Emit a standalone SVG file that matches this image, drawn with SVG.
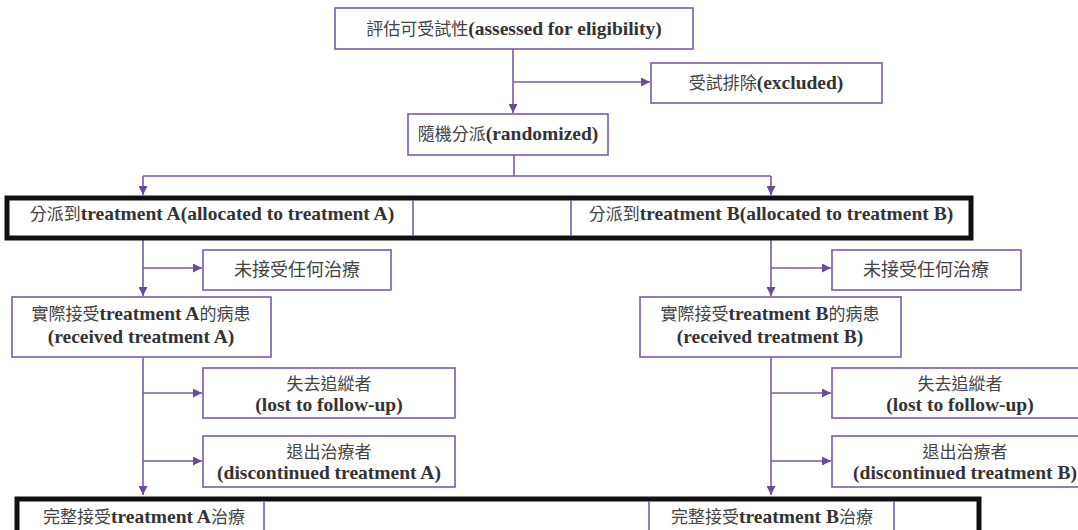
<svg xmlns="http://www.w3.org/2000/svg" width="1078" height="530" viewBox="0 0 1078 530">
<style>
.box{fill:#fff;stroke:#7b5aa8;stroke-width:1.6}
.thick{fill:#fff;stroke:#111;stroke-width:5}
.div{stroke:#7b5aa8;stroke-width:1.6}
.ln{fill:none;stroke:#7b5aa8;stroke-width:1.6}
text{font-family:"Liberation Serif","Noto Sans CJK TC",serif;font-size:19.5px;font-weight:bold;fill:#333;text-anchor:middle}
.c{font-family:"Noto Sans CJK TC","Liberation Serif",sans-serif;font-size:17px;font-weight:normal;fill:#444}
</style>
<defs>
<marker id="ah" viewBox="0 0 10 10" refX="10" refY="5" markerWidth="9" markerHeight="9" markerUnits="userSpaceOnUse" orient="auto">
<path d="M0,0 L10,5 L0,10 z" fill="#6a4a9c"/>
</marker>
</defs>
<g id="connectors">
<path class="ln" d="M513,49 V113" marker-end="url(#ah)"/>
<path class="ln" d="M513,82 H650" marker-end="url(#ah)"/>
<path class="ln" d="M514,155 V176 M143,176 H771"/>
<path class="ln" d="M143,176 V195" marker-end="url(#ah)"/>
<path class="ln" d="M771,176 V195" marker-end="url(#ah)"/>
<path class="ln" d="M143,239 V296" marker-end="url(#ah)"/>
<path class="ln" d="M143,268 H202" marker-end="url(#ah)"/>
<path class="ln" d="M771,239 V296" marker-end="url(#ah)"/>
<path class="ln" d="M771,268 H831" marker-end="url(#ah)"/>
<path class="ln" d="M143,357 V495" marker-end="url(#ah)"/>
<path class="ln" d="M143,393 H202" marker-end="url(#ah)"/>
<path class="ln" d="M143,461 H202" marker-end="url(#ah)"/>
<path class="ln" d="M771,357 V495" marker-end="url(#ah)"/>
<path class="ln" d="M771,393 H831" marker-end="url(#ah)"/>
<path class="ln" d="M771,461 H831" marker-end="url(#ah)"/>
</g>
<g id="assess">
<rect class="box" x="335" y="8" width="358" height="41"/>
<text x="514" y="35"><tspan class="c">評估可受試性</tspan>(assessed for eligibility)</text>
</g>
<g id="excluded">
<rect class="box" x="651" y="63" width="231" height="40"/>
<text x="766" y="89"><tspan class="c">受試排除</tspan>(excluded)</text>
</g>
<g id="randomized">
<rect class="box" x="408" y="114" width="200" height="41"/>
<text x="508" y="140"><tspan class="c">隨機分派</tspan>(randomized)</text>
</g>
<g id="allocated">
<rect class="thick" x="7" y="198" width="964" height="40"/>
<line class="div" x1="413" y1="200" x2="413" y2="236"/>
<line class="div" x1="571" y1="200" x2="571" y2="236"/>
<text x="212" y="220"><tspan class="c">分派到</tspan>treatment A(allocated to treatment A)</text>
<text x="771" y="220"><tspan class="c">分派到</tspan>treatment B(allocated to treatment B)</text>
</g>
<g id="noTreatA">
<rect class="box" x="203" y="250" width="188" height="40"/>
<text x="297" y="276" class="c" style="font-size:18px">未接受任何治療</text>
</g>
<g id="noTreatB">
<rect class="box" x="832" y="250" width="189" height="40"/>
<text x="926" y="276" class="c" style="font-size:18px">未接受任何治療</text>
</g>
<g id="receivedA">
<rect class="box" x="12" y="297" width="259" height="60"/>
<text x="141" y="320"><tspan class="c">實際接受</tspan>treatment A<tspan class="c">的病患</tspan></text>
<text x="141" y="343">(received treatment A)</text>
</g>
<g id="receivedB">
<rect class="box" x="640" y="297" width="261" height="60"/>
<text x="770" y="320"><tspan class="c">實際接受</tspan>treatment B<tspan class="c">的病患</tspan></text>
<text x="770" y="343">(received treatment B)</text>
</g>
<g id="lostA">
<rect class="box" x="203" y="368" width="252" height="50"/>
<text x="329" y="390" class="c">失去追縱者</text>
<text x="329" y="411">(lost to follow-up)</text>
</g>
<g id="lostB">
<rect class="box" x="832" y="368" width="250" height="50"/>
<text x="960" y="390" class="c">失去追縱者</text>
<text x="960" y="411">(lost to follow-up)</text>
</g>
<g id="discA">
<rect class="box" x="203" y="436" width="252" height="51"/>
<text x="329" y="458" class="c">退出治療者</text>
<text x="329" y="479">(discontinued treatment A)</text>
</g>
<g id="discB">
<rect class="box" x="832" y="436" width="250" height="51"/>
<text x="965" y="458" class="c">退出治療者</text>
<text x="965" y="479">(discontinued treatment B)</text>
</g>
<g id="completed">
<rect class="thick" x="17" y="499" width="962" height="40"/>
<line class="div" x1="264" y1="501" x2="264" y2="530"/>
<line class="div" x1="649" y1="501" x2="649" y2="530"/>
<line class="div" x1="894" y1="501" x2="894" y2="530"/>
<text x="144" y="523"><tspan class="c">完整接受</tspan>treatment A<tspan class="c">治療</tspan></text>
<text x="772" y="523"><tspan class="c">完整接受</tspan>treatment B<tspan class="c">治療</tspan></text>
</g>
</svg>
